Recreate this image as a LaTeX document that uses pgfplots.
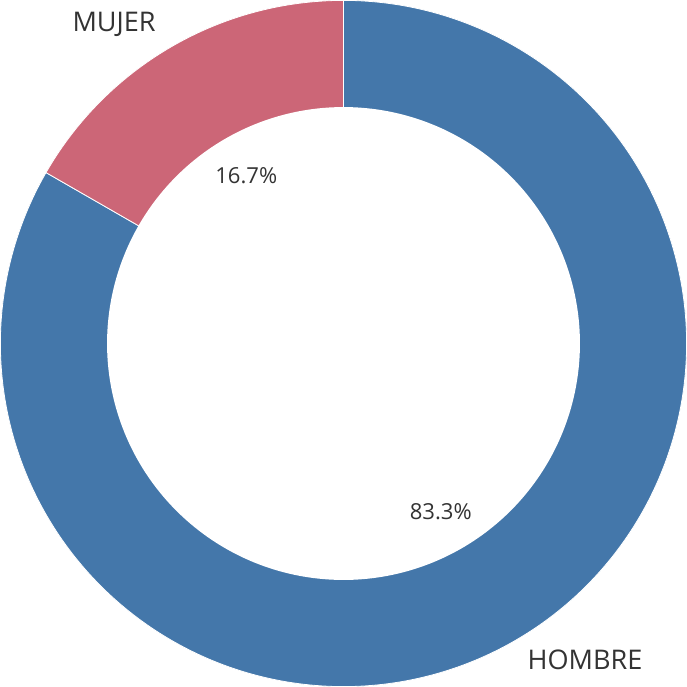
\documentclass[border=0pt]{standalone}
\usepackage{pgfplots}
\usepackage{pgfplotstable}
\pgfplotsset{compat=1.18}
\usepackage{fontspec}
\setmainfont{Open Sans}
\definecolor{hblue}{HTML}{4477AA}
\definecolor{mred}{HTML}{CC6677}
\definecolor{txt}{HTML}{333333}
\pgfplotstableread{
label value
HOMBRE 83.3
MUJER 16.7
}\piedata
\begin{document}%
\pgfplotstablegetelem{0}{value}\of\piedata \let\vA\pgfplotsretval%
\pgfplotstablegetelem{1}{value}\of\piedata \let\vB\pgfplotsretval%
\pgfmathsetmacro\aA{90-3.6*\vA}%
\pgfmathsetmacro\aB{\aA-3.6*\vB}%
\pgfmathsetmacro\mA{90-1.8*\vA}%
\pgfmathsetmacro\mB{\aA-1.8*\vB}%
\begin{tikzpicture}
\begin{axis}[width=687bp, height=684bp, scale only axis,
  xmin=0, xmax=687, ymin=0, ymax=684, hide axis, clip=false]
\addplot[fill=hblue, draw=white, line width=0.8pt, domain=\aA:90, samples=300]
  ({343+341*cos(x)},{342+341*sin(x)}) -- (axis cs:343,342) -- cycle;
\addplot[fill=mred, draw=white, line width=0.8pt, domain=\aB:\aA, samples=100]
  ({343+341*cos(x)},{342+341*sin(x)}) -- (axis cs:343,342) -- cycle;
\addplot[fill=white, draw=none, domain=0:360, samples=300]
  ({343+235*cos(x)},{342+235*sin(x)}) -- cycle;
\node[txt, font=\fontsize{22}{24}\selectfont] at (axis cs:{343+193*cos(\mA)},{342+193*sin(\mA)}) {83.3\%};
\node[txt, font=\fontsize{22}{24}\selectfont] at (axis cs:{343+193*cos(\mB)},{342+193*sin(\mB)}) {16.7\%};
\node[txt, font=\fontsize{27}{30}\selectfont] at (axis cs:115,659) {MUJER};
\node[txt, font=\fontsize{27}{30}\selectfont] at (axis cs:583,28) {HOMBRE};
\end{axis}
\end{tikzpicture}%
\end{document}
